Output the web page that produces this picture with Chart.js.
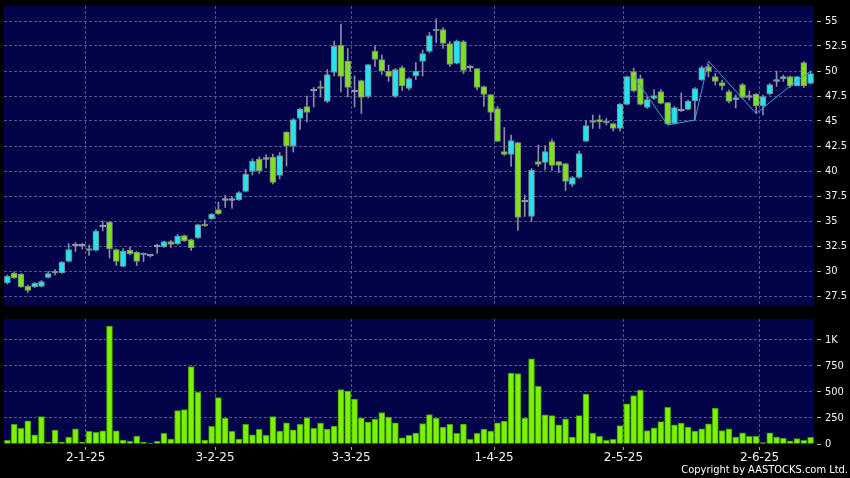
<!DOCTYPE html>
<html>
<head>
<meta charset="utf-8">
<script src="https://cdn.jsdelivr.net/npm/chart.js@4.4.1/dist/chart.umd.min.js"></script>
<style>
  body { margin: 0; background: #000; }
  #wrap { position: relative; width: 850px; height: 478px; background: #000; overflow: hidden; }
  #price { position: absolute; left: 0; top: 0; }
  #vol { position: absolute; left: 0; top: 310px; }
  #copy { position: absolute; right: 2px; top: 463px; color: #fff; font: 11px "DejaVu Sans Condensed", "DejaVu Sans", sans-serif; white-space: nowrap; }
</style>
</head>
<body>
<div id="wrap">
  <canvas id="price" width="850" height="310"></canvas>
  <canvas id="vol" width="850" height="168"></canvas>
  <div id="copy">Copyright by AASTOCKS.com Ltd.</div>
</div>
<script>
// trading days (d-m-yy)
const dates = [
  '12-12-24','13-12-24','16-12-24','17-12-24','18-12-24','19-12-24','20-12-24','23-12-24','24-12-24','27-12-24','30-12-24','31-12-24',
  '2-1-25','3-1-25','6-1-25','7-1-25','8-1-25','9-1-25','10-1-25','13-1-25','14-1-25','15-1-25','16-1-25','17-1-25','20-1-25','21-1-25','22-1-25','23-1-25','24-1-25','27-1-25','28-1-25',
  '3-2-25','4-2-25','5-2-25','6-2-25','7-2-25','10-2-25','11-2-25','12-2-25','13-2-25','14-2-25','17-2-25','18-2-25','19-2-25','20-2-25','21-2-25','24-2-25','25-2-25','26-2-25','27-2-25','28-2-25',
  '3-3-25','4-3-25','5-3-25','6-3-25','7-3-25','10-3-25','11-3-25','12-3-25','13-3-25','14-3-25','17-3-25','18-3-25','19-3-25','20-3-25','21-3-25','24-3-25','25-3-25','26-3-25','27-3-25','28-3-25','31-3-25',
  '1-4-25','2-4-25','3-4-25','7-4-25','8-4-25','9-4-25','10-4-25','11-4-25','14-4-25','15-4-25','16-4-25','17-4-25','22-4-25','23-4-25','24-4-25','25-4-25','28-4-25','29-4-25','30-4-25',
  '2-5-25','6-5-25','7-5-25','8-5-25','9-5-25','12-5-25','13-5-25','14-5-25','15-5-25','16-5-25','19-5-25','20-5-25','21-5-25','22-5-25','23-5-25','26-5-25','27-5-25','28-5-25','29-5-25','30-5-25',
  '2-6-25','3-6-25','4-6-25','5-6-25','6-6-25','9-6-25','10-6-25','11-6-25'
];

const opens = [
  28.8,29.8,29.7,28.5,28.4,28.45,29.35,29.95,29.8,30.95,32.5,32.5,32.25,32.05,34.4,34.9,32.15,30.45,32.1,31.9,
  31.6,31.5,32.4,32.4,32.95,32.7,33.55,33.15,33.3,34.65,35.2,36.15,37.05,37.05,37.1,37.95,39.95,41.2,41.15,41.4,
  39.55,43.9,42.5,45.25,46.45,48.0,48.45,46.95,49.85,52.6,51.0,47.9,49.05,47.45,52.0,51.15,50.0,47.45,50.35,48.25,
  49.5,50.95,51.95,54.0,54.15,52.75,50.75,52.95,50.3,50.25,48.45,47.65,46.25,41.95,41.65,42.85,36.9,35.45,40.95,40.85,
  42.95,40.95,40.75,38.65,39.35,42.95,44.85,45.15,44.95,44.75,44.25,46.65,49.95,49.25,46.35,47.25,47.95,46.85,44.75,46.0,
  46.15,47.0,49.1,50.45,49.45,48.85,47.95,47.1,48.65,47.35,47.7,46.5,47.7,48.95,49.2,49.45,48.5,50.85,48.75
];
const highs = [
  29.6,29.9,29.75,28.6,28.85,29.05,29.95,30.15,30.95,32.75,32.85,32.75,32.6,34.15,35.0,34.95,32.2,32.25,32.4,31.95,
  31.8,31.55,32.7,33.0,33.05,33.65,33.6,33.2,34.7,35.1,35.75,36.9,37.55,37.45,37.95,40.15,41.2,41.4,41.65,41.7,
  41.85,43.95,45.25,46.3,47.5,48.35,49.0,50.15,53.0,54.7,52.25,49.5,49.1,50.65,52.5,51.6,50.6,50.25,50.5,49.35,
  50.85,52.1,53.85,55.2,54.35,52.95,53.1,53.05,50.55,50.25,48.5,47.65,46.45,44.35,43.6,42.85,37.6,40.25,42.6,42.55,
  43.15,40.95,40.75,39.45,42.0,45.05,45.6,45.6,45.25,44.8,46.75,49.5,50.3,49.6,47.4,48.15,48.15,46.85,46.45,47.8,
  47.1,48.35,50.5,50.65,49.75,49.1,48.1,47.6,48.75,48.0,47.75,47.6,48.75,50.0,49.6,49.5,49.45,50.95,49.95
];
const lows = [
  28.7,29.25,28.35,27.85,28.35,28.4,29.3,29.6,29.75,30.9,31.95,32.2,31.55,32.0,34.0,31.3,30.55,30.4,31.6,30.55,
  30.95,31.4,31.75,32.35,32.35,32.65,32.95,32.05,33.25,34.45,35.15,35.65,36.35,36.25,37.05,37.9,39.6,39.75,40.3,38.7,
  39.2,40.5,41.9,44.15,44.9,46.4,47.4,46.85,49.5,47.9,47.4,46.4,45.75,47.3,50.45,49.65,48.95,47.35,48.05,48.1,
  49.15,49.5,51.85,52.85,52.25,50.45,50.7,49.75,50.0,48.1,46.45,45.1,42.95,41.55,40.45,34.05,35.45,34.95,40.45,40.1,
  40.05,39.85,38.05,38.45,39.25,42.95,44.25,44.25,44.6,44.0,44.0,46.6,47.9,46.6,46.25,47.15,46.7,44.6,44.7,45.95,
  46.1,45.1,49.05,49.4,48.6,48.1,46.8,46.3,47.25,47.1,45.75,45.6,47.6,48.45,48.95,48.35,48.5,48.35,48.7
];
const closes = [
  29.5,29.3,28.4,28.05,28.8,28.95,29.75,29.8,30.9,32.15,32.5,32.5,32.05,34.0,34.4,32.2,30.95,32.0,31.7,30.95,
  31.75,31.5,32.4,32.95,32.65,33.5,33.0,32.3,34.65,34.5,35.7,35.7,37.05,37.05,37.85,39.7,41.0,40.0,41.15,38.85,
  41.55,42.5,45.15,46.2,45.85,48.0,48.25,49.65,52.5,49.45,48.35,47.9,47.35,50.65,51.15,50.0,49.45,50.15,48.5,49.25,
  50.0,51.75,53.55,54.15,52.75,50.65,53.0,50.05,50.3,48.35,47.65,45.85,42.95,41.65,43.05,35.35,36.9,40.1,40.65,41.95,
  40.55,40.55,38.95,39.35,41.75,44.55,45.05,44.9,44.8,44.25,46.7,49.45,48.0,46.65,47.15,47.55,46.75,44.7,46.35,46.0,
  47.0,48.25,50.35,49.95,48.95,48.5,46.95,47.35,47.35,47.35,46.5,47.45,48.65,48.95,49.45,48.5,49.45,48.5,49.75
];
const volumes = [
  35,188,150,223,89,264,16,134,16,67,146,16,121,111,127,1132,127,38,25,76,
  16,6,25,102,48,321,331,744,496,38,169,445,248,121,48,188,89,140,83,264,
  124,204,137,188,254,150,200,143,172,522,509,432,248,210,239,302,258,204,60,83,
  105,197,283,248,162,188,102,191,45,102,143,124,204,219,680,677,248,817,553,280,
  273,184,242,67,273,480,105,73,35,45,178,385,464,518,130,156,216,353,184,200,
  162,124,146,194,343,130,146,67,108,73,73,13,108,67,54,29,51,35,64
];

// zigzag overlay turning points
const zigIdx = [92, 97, 101, 103, 110, 115, 118];
const zigVal = [49.5, 44.6, 45.1, 51.0, 45.75, 48.5, 50.0];

const priceTicks = [27.5, 30, 32.5, 35, 37.5, 40, 42.5, 45, 47.5, 50, 52.5, 55];
const volTicks = [0, 250, 500, 750, 1000];

const gridColor = '#56568c';
const plotBg = '#030349';
const labelFont = '"DejaVu Sans Condensed", "DejaVu Sans", sans-serif';

const monthStart = dates.map((d, i) => i > 0 && d.split('-')[1] !== dates[i - 1].split('-')[1]);

const zigLine = dates.map(() => null);
zigIdx.forEach((idx, k) => { zigLine[idx] = zigVal[k]; });

const bodyColors = opens.map((o, i) => closes[i] > o ? '#22e4f0' : closes[i] < o ? '#80e020' : '#a0a0b4');
const bodyBorders = opens.map((o, i) => closes[i] === o ? '#a0a0b4' : '#7a8686');

// dark plot area
const plotBackground = {
  id: 'plotBackground',
  beforeDraw(chart) {
    const { ctx, chartArea: a } = chart;
    ctx.save();
    ctx.fillStyle = plotBg;
    ctx.fillRect(a.left, a.top, a.right - a.left, a.bottom - a.top);
    ctx.restore();
  }
};

function xAxis(showLabels) {
  return {
    type: 'category',
    offset: true,
    grid: {
      offset: true,
      color: c => monthStart[c.index] ? gridColor : 'transparent',
      drawTicks: showLabels,
      tickLength: 6,
      tickColor: c => monthStart[c.index] ? '#a8a8a8' : 'transparent',
      tickBorderDash: [0, 3, 3, 40]
    },
    border: { display: false, dash: [3, 2] },
    ticks: {
      display: showLabels,
      autoSkip: false,
      maxRotation: 0,
      minRotation: 0,
      padding: 1,
      labelOffset: -3.4,
      color: '#f2f2f2',
      font: { family: '"DejaVu Sans", sans-serif', size: 12 },
      callback: (v, i) => monthStart[i] ? dates[i] : ''
    },
    afterFit: s => { s.height = showLabels ? 34 : 4; s.paddingLeft = 0; s.paddingRight = 0; }
  };
}

function yAxis(min, max, tickVals, fmt) {
  return {
    position: 'right',
    min: min,
    max: max,
    afterBuildTicks: s => { s.ticks = tickVals.map(v => ({ value: v })); },
    afterFit: s => { s.width = 36; s.paddingTop = 0; s.paddingBottom = 0; },
    grid: {
      color: c => (c.tick && c.tick.value === 0) ? 'transparent' : gridColor,
      tickLength: 7,
      tickColor: '#b4b4b4',
      tickBorderDash: [0, 3, 4, 40]
    },
    border: { display: false, dash: [3, 2] },
    ticks: {
      color: '#f2f2f2',
      padding: 4,
      font: { family: labelFont, size: 11 },
      callback: fmt
    }
  };
}

const commonPlugins = { legend: { display: false }, tooltip: { enabled: false } };

new Chart(document.getElementById('price'), {
  type: 'bar',
  data: {
    labels: dates,
    datasets: [
      {
        type: 'line',
        data: zigLine,
        borderColor: '#3c9fe6',
        borderWidth: 1,
        pointRadius: 0,
        spanGaps: true,
        tension: 0
      },
      {
        data: opens.map((o, i) => [o, closes[i]]),
        backgroundColor: bodyColors,
        borderColor: bodyBorders,
        borderWidth: 1,
        borderSkipped: false,
        barThickness: 6,
        minBarLength: 2,
        grouped: false
      },
      {
        data: lows.map((l, i) => [l, highs[i]]),
        backgroundColor: '#8c8ca2',
        borderWidth: 0,
        barThickness: 1,
        grouped: false
      }
    ]
  },
  options: {
    responsive: false,
    animation: false,
    layout: { padding: { left: 4, top: 6, right: 0, bottom: 0 } },
    plugins: commonPlugins,
    scales: {
      x: xAxis(false),
      y: yAxis(26.5, 56.5, priceTicks, v => String(v))
    }
  },
  plugins: [plotBackground]
});

new Chart(document.getElementById('vol'), {
  type: 'bar',
  data: {
    labels: dates,
    datasets: [{
      data: volumes,
      backgroundColor: '#7cf200',
      borderColor: '#3f9c00',
      borderWidth: 1,
      barThickness: 6
    }]
  },
  options: {
    responsive: false,
    animation: false,
    layout: { padding: { left: 4, top: 9, right: 0, bottom: 0 } },
    plugins: commonPlugins,
    scales: {
      x: xAxis(true),
      y: yAxis(0, 1200, volTicks, v => v >= 1000 ? (v / 1000) + 'K' : String(v))
    }
  },
  plugins: [plotBackground]
});
</script>
</body>
</html>
